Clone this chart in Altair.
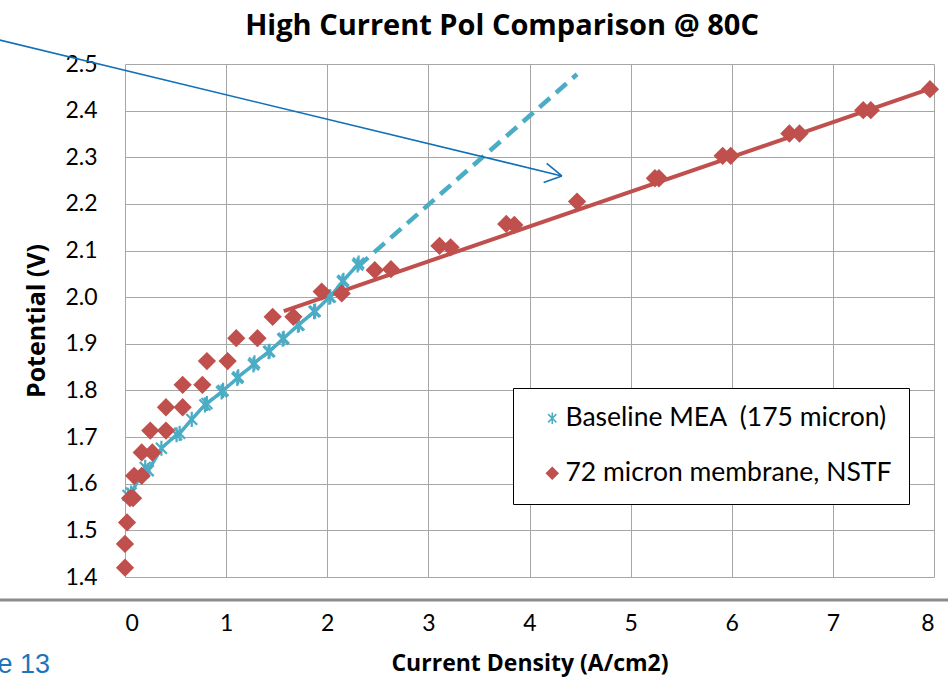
import altair as alt
import pandas as pd

# ---- data ----
title_text = "High Current Pol Comparison @ 80C"
series_names = ["Baseline MEA \u00a0(175 micron)", "72 micron membrane, NSTF"]

blue_x = [0.03, 0.06, 0.20, 0.23, 0.36, 0.51, 0.54, 0.66, 0.79, 0.81, 0.955, 0.97,
          1.11, 1.12, 1.27, 1.28, 1.42, 1.43, 1.56, 1.57, 1.71, 1.72, 1.87, 1.88,
          2.02, 2.03, 2.15, 2.16, 2.30, 2.31]
blue_y = [1.575, 1.58, 1.635, 1.628, 1.676, 1.705, 1.708, 1.738, 1.769, 1.772, 1.797, 1.80,
          1.826, 1.829, 1.855, 1.859, 1.883, 1.884, 1.910, 1.912, 1.940, 1.941, 1.969, 1.970,
          2.000, 2.001, 2.033, 2.036, 2.069, 2.073]

red_x = [0.0, 0.0, 0.02, 0.05, 0.08, 0.09, 0.165, 0.165, 0.27, 0.25, 0.405, 0.405, 0.57,
         0.57, 0.765, 0.81, 1.015, 1.10, 1.31, 1.46, 1.665, 1.945, 2.143, 2.47, 2.63,
         3.11, 3.22, 3.77, 3.85, 4.47, 5.24, 5.28, 5.91, 5.99, 6.57, 6.67, 7.30, 7.375, 7.96]
red_y = [1.420, 1.471, 1.517, 1.569, 1.569, 1.617, 1.617, 1.667, 1.667, 1.714, 1.714, 1.764,
         1.764, 1.812, 1.812, 1.863, 1.863, 1.912, 1.912, 1.958, 1.958, 2.012, 2.008, 2.058,
         2.060, 2.110, 2.107, 2.157, 2.155, 2.205, 2.255, 2.255, 2.303, 2.303, 2.351, 2.351,
         2.401, 2.401, 2.446]

# red linear fit and blue dashed extrapolation
fit_x = [1.57, 8.0]
fit_y = [1.970, 2.450]
dash_x = [2.30, 4.47]
dash_y = [2.065, 2.478]

# annotation arrow (shaft + two head strokes)
arrow_x = [-1.5, 4.32, 4.17, 4.32, 4.14, 4.32]
arrow_y = [2.565, 2.260, 2.287, 2.260, 2.246, 2.260]
arrow_seg = [0, 0, 1, 1, 2, 2]

x_ticks = [0, 1, 2, 3, 4, 5, 6, 7, 8]
y_ticks = [1.4, 1.5, 1.6, 1.7, 1.8, 1.9, 2.0, 2.1, 2.2, 2.3, 2.4, 2.5]

BLUE = "#4BACC6"
RED = "#C0504D"
ARROW = "#1070B8"
GRID = "#A6A6A6"
FONT = "Lato"
TFONT = "Open Sans"
ASTERISK = "M0,-1L0,1M-0.72,-0.72L0.72,0.72M-0.72,0.72L0.72,-0.72"

pts = pd.DataFrame({
    "x": blue_x + red_x,
    "y": blue_y + red_y,
    "series": [series_names[0]] * len(blue_x) + [series_names[1]] * len(red_x),
})
blue_df = pd.DataFrame({"x": blue_x, "y": blue_y})
fit_df = pd.DataFrame({"x": fit_x, "y": fit_y})
dash_df = pd.DataFrame({"x": dash_x, "y": dash_y})
arrow_df = pd.DataFrame({"x": arrow_x, "y": arrow_y, "seg": arrow_seg})

xs = alt.Scale(domain=[0, 8], nice=False)
ys = alt.Scale(domain=[1.4, 2.5], nice=False, zero=False)

x_axis = alt.Axis(values=x_ticks, format="d", grid=True, gridColor=GRID, gridWidth=1,
                  domain=False, ticks=False, labelPadding=35, labelFontSize=23,
                  labelFont=FONT, labelColor="black", title="Current Density (A/cm2)",
                  titleFont=TFONT, titleFontSize=23, titleFontWeight="bold",
                  titleColor="black", titlePadding=17)
y_axis = alt.Axis(values=y_ticks, format=".1f", grid=True, gridColor=GRID, gridWidth=1,
                  domain=False, ticks=False, labelPadding=28, labelFontSize=23,
                  labelFont=FONT, labelColor="black", title="Potential (V)",
                  titleFont=TFONT, titleFontSize=25, titleFontWeight="bold",
                  titleColor="black", titlePadding=15)

base_x = alt.X("x:Q", scale=xs, axis=x_axis)
base_y = alt.Y("y:Q", scale=ys, axis=y_axis)

fit_line = alt.Chart(fit_df).mark_line(color=RED, strokeWidth=4).encode(
    x=base_x, y=base_y)
blue_line = alt.Chart(blue_df).mark_line(color=BLUE, strokeWidth=3.5).encode(
    x="x:Q", y="y:Q")
dash_line = alt.Chart(dash_df).mark_line(color=BLUE, strokeWidth=4.5, strokeDash=[14, 8]).encode(
    x="x:Q", y="y:Q")

points = alt.Chart(pts).mark_point(size=230, strokeWidth=2.2, opacity=1).encode(
    x="x:Q", y="y:Q",
    shape=alt.Shape("series:N", scale=alt.Scale(domain=series_names, range=[ASTERISK, "diamond"]),
                    legend=alt.Legend(title=None)),
    stroke=alt.Stroke("series:N", scale=alt.Scale(domain=series_names, range=[BLUE, RED]),
                      legend=alt.Legend(title=None)),
    fill=alt.Fill("series:N", scale=alt.Scale(domain=series_names, range=["rgba(0,0,0,0)", RED]),
                  legend=alt.Legend(title=None)),
)

arrow = alt.Chart(arrow_df).mark_line(color=ARROW, strokeWidth=1.6).encode(
    x="x:Q", y="y:Q", detail="seg:N", order=alt.Order("seg:Q"))

separator = alt.Chart(pd.DataFrame({"k": [0]})).mark_rule(color="#8C8C8C", strokeWidth=3).encode(
    x=alt.value(-125), x2=alt.value(823), y=alt.value(536))
slide_no = alt.Chart(pd.DataFrame({"t": ["Slide 13"]})).mark_text(
    align="right", baseline="alphabetic", font="Liberation Sans", fontSize=27,
    color="#1B75BB").encode(x=alt.value(-75), y=alt.value(609), text="t:N")
title = alt.Chart(pd.DataFrame({"t": [title_text]})).mark_text(
    align="center", baseline="alphabetic", font=TFONT, fontSize=29, fontWeight="bold",
    color="black").encode(x=alt.value(377), y=alt.value(-29), text="t:N")

chart = alt.layer(fit_line, blue_line, points, dash_line, arrow, separator, slide_no,
                  title).properties(
    width=809, height=513,
    autosize=alt.AutoSizeParams(type="none"),
    padding={"left": 125, "top": 64, "right": 14, "bottom": 101},
).configure_view(stroke=None).configure_legend(
    orient="none", legendX=388, legendY=324, strokeColor="black", strokeWidth=1,
    fillColor="white", padding=17, symbolOffset=9, labelFont=FONT, labelFontSize=26.5,
    labelColor="black", symbolSize=130, symbolStrokeWidth=1.5, rowPadding=28,
    labelOffset=0, labelLimit=500, cornerRadius=0,
)

chart.save("out.html", embed_options={"renderer": "svg", "actions": False})
